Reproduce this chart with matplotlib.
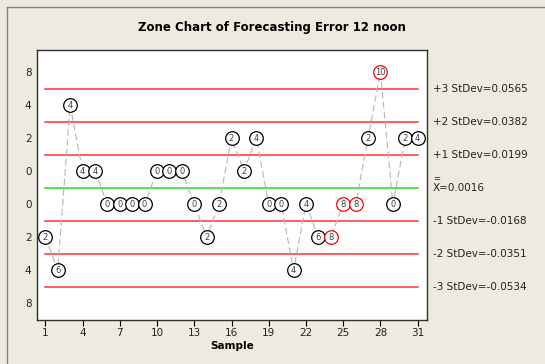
import matplotlib
matplotlib.use("Agg")
import matplotlib.pyplot as plt
from matplotlib.lines import Line2D

samples = list(range(1, 32))
zone_pos = [-1.5, -2.5, 2.5, 0.5, 0.5, -0.5, -0.5, -0.5, -0.5, 0.5,
            0.5, 0.5, -0.5, -1.5, -0.5, 1.5, 0.5, 1.5, -0.5, -0.5,
            -2.5, -0.5, -1.5, -1.5, -0.5, -0.5, 1.5, 3.5, -0.5, 1.5, 1.5]
scores = [2, 6, 4, 4, 4, 0, 0, 0, 0, 0,
          0, 0, 0, 2, 2, 2, 2, 4, 0, 0,
          4, 4, 6, 8, 8, 8, 2, 10, 0, 2, 4]
flagged = [24, 25, 26, 28]

limit_levels = [3, 2, 1, 0, -1, -2, -3]
limit_labels = ["+3 StDev=0.0565", "+2 StDev=0.0382", "+1 StDev=0.0199",
                "X=0.0016", "-1 StDev=-0.0168", "-2 StDev=-0.0351",
                "-3 StDev=-0.0534"]
ytick_pos = [3.5, 2.5, 1.5, 0.5, -0.5, -1.5, -2.5, -3.5]
ytick_labels = ["8", "4", "2", "0", "0", "2", "4", "8"]
xticks = [1, 4, 7, 10, 13, 16, 19, 22, 25, 28, 31]

bg = "#EEEAE0"
fig = plt.figure(figsize=(5.45, 3.64), dpi=100, facecolor=bg)
ax = fig.add_axes([37/545, 1-320/364, 390/545, 270/364])
ax.set_facecolor("white")

for lv in limit_levels:
    col = "#22DD22" if lv == 0 else "#FF3030"
    ax.plot([1, 31], [lv, lv], color=col, lw=1.1, zorder=1)

ax.plot(samples, zone_pos, color="#B5B5B5", lw=0.8, dashes=(6, 3), zorder=2)
for s, y, sc in zip(samples, zone_pos, scores):
    ec = "#FF0000" if s in flagged else "black"
    ax.plot([s], [y], marker="o", ms=9.8, mfc="white", mec=ec, mew=0.9, zorder=3)
    ax.text(s, y, str(sc), ha="center", va="center", fontsize=6,
            color="#404040", zorder=4)

ax.set_xlim(0.33, 31.75)
ax.set_ylim(-4.01, 4.17)
ax.set_xticks(xticks)
ax.set_xticklabels([str(t) for t in xticks], fontsize=7.5, color="#222222")
ax.set_yticks(ytick_pos)
ax.set_yticklabels(ytick_labels, fontsize=7.5, color="#222222")
ax.tick_params(axis="y", length=0, pad=4)
ax.tick_params(axis="x", length=4, width=0.8, pad=2, direction="out")
for sp in ax.spines.values():
    sp.set_color("#303030")
    sp.set_linewidth(1.0)
ax.set_xlabel("Sample", fontsize=7.5, fontweight="bold", labelpad=2)

for lv, lab in zip(limit_levels, limit_labels):
    ax.text(1.015, lv, lab, transform=ax.get_yaxis_transform(),
            ha="left", va="center", fontsize=7.5, color="#222222", clip_on=False)
ax.text(1.016, 0.27, "=", transform=ax.get_yaxis_transform(),
        ha="left", va="center", fontsize=6, color="#222222", clip_on=False)

fig.text(272/545, 1-27/364, "Zone Chart of Forecasting Error 12 noon",
         ha="center", va="center", fontsize=8.5, fontweight="bold")

fig.add_artist(Line2D([7/545, 7/545], [0, 1-7/364], transform=fig.transFigure,
                      color="#808080", lw=1))
fig.add_artist(Line2D([7/545, 1], [1-7/364, 1-7/364], transform=fig.transFigure,
                      color="#808080", lw=1))

fig.savefig("out.png", dpi=100, facecolor=bg)
